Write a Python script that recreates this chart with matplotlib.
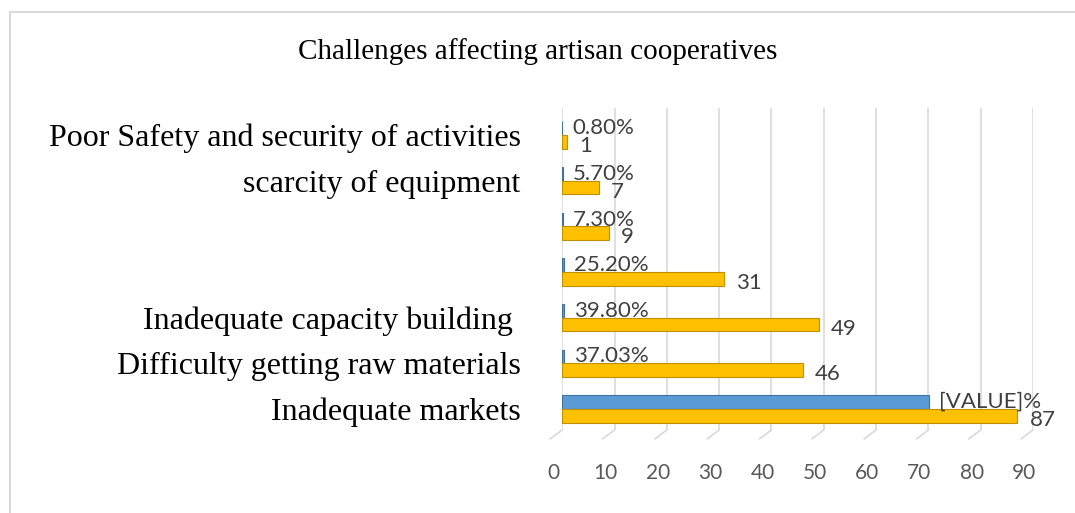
import matplotlib.pyplot as plt
from matplotlib.patches import Rectangle
from matplotlib.transforms import offset_copy, ScaledTranslation

categories = ["Inadequate markets", "Difficulty getting raw materials", "Inadequate capacity building ",
              "", "", "scarcity of equipment", "Poor Safety and security of activities"]
percent = [70.16, 0.3703, 0.398, 0.252, 0.073, 0.057, 0.008]
percent_labels = ["[VALUE]%", "37.03%", "39.80%", "25.20%", "7.30%", "5.70%", "0.80%"]
counts = [87, 46, 49, 31, 9, 7, 1]
x_ticks = [0, 10, 20, 30, 40, 50, 60, 70, 80, 90]

blue = "#5B9BD5"
yellow = "#FFC000"
label_color = "#404040"

fig = plt.figure(figsize=(10.75, 5.13), dpi=100)
fig.patches.append(Rectangle((0.009, -0.01), 1.0, 0.987, transform=fig.transFigure,
                             fill=False, edgecolor="#D9D9D9", linewidth=1.5))

ax = fig.add_axes([0.523, 0.162, 0.438, 0.627])
y = list(range(len(categories)))
h = 0.3
ax.barh([i + h / 2 for i in y], percent, height=h, color=blue, edgecolor="#41719C", linewidth=0.8)
ax.barh([i - h / 2 for i in y], counts, height=h, color=yellow, edgecolor="#BF9000", linewidth=0.8)

blue_off = offset_copy(ax.transData, fig=fig, x=10, y=0, units="dots")
yel_off = offset_copy(ax.transData, fig=fig, x=12, y=-4, units="dots")
for i in y:
    ax.text(percent[i], i + h / 2, percent_labels[i], transform=blue_off, ha="left", va="center",
            fontsize=16, color=label_color, family="Lato")
    ax.text(counts[i], i - h / 2, str(counts[i]), transform=yel_off, ha="left", va="center",
            fontsize=16, color=label_color, family="Lato")

ax.set_xlim(0, 90)
ax.set_ylim(-0.46, 6.59)
ax.set_xticks(x_ticks)
ax.set_xticklabels([str(t) for t in x_ticks], family="Lato", fontsize=15, color="#595959")
ax.set_yticks(y)
ax.set_yticklabels(categories, family="Liberation Serif", fontsize=23, color="black")
ax.tick_params(axis="x", length=0, pad=24)
ax.tick_params(axis="y", length=0, pad=30)
shift = ScaledTranslation(-9 / 100, 0, fig.dpi_scale_trans)
for lab in ax.get_xticklabels():
    lab.set_transform(lab.get_transform() + shift)
ax.grid(axis="x", color="#D9D9D9", linewidth=1.2)
ax.set_axisbelow(True)
for s in ax.spines.values():
    s.set_visible(False)

# slanted floor lines under the gridlines
for t in x_ticks:
    ax.annotate("", xy=(t, -0.46), xytext=(-12, -9), textcoords="offset pixels",
                arrowprops=dict(arrowstyle="-", color="#D9D9D9", lw=1.2, shrinkA=0, shrinkB=0),
                annotation_clip=False)

fig.text(0.5, 0.9, "Challenges affecting artisan cooperatives", ha="center", va="center",
         family="Liberation Serif", fontsize=21)

fig.savefig("out.png", dpi=100)
